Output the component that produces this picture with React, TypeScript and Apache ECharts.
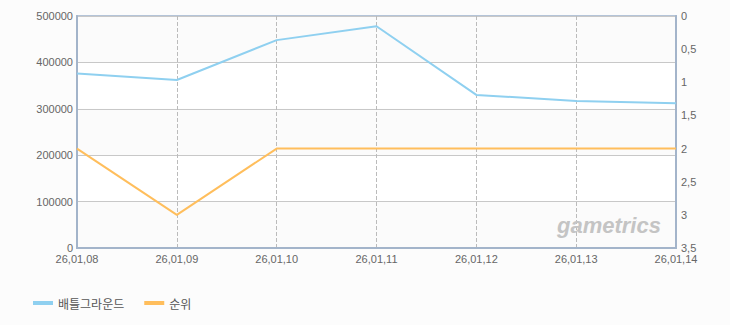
import React, { useEffect, useRef } from "react";
import * as echarts from "echarts";

const categories = ["26,01,08", "26,01,09", "26,01,10", "26,01,11", "26,01,12", "26,01,13", "26,01,14"];
const playersValues = [376000, 362000, 448000, 478000, 330000, 317000, 312000];
const rankValues = [2, 3, 2, 2, 2, 2, 2];
const seriesNames = ["배틀그라운드", "순위"];

export default function App() {
  const ref = useRef<HTMLDivElement>(null);
  useEffect(() => {
    if (!ref.current) return;
    const chart = echarts.init(ref.current, undefined, { renderer: "svg" });
    const font = "Liberation Sans";
    chart.setOption({
      animation: false,
      backgroundColor: "#fcfcfc",
      textStyle: { fontFamily: font },
      grid: { left: 77, right: 54, top: 16, bottom: 77, show: true, borderColor: "#b4c4d8", borderWidth: 2, backgroundColor: "transparent" },
      legend: {
        left: 28,
        top: 292,
        icon: "rect",
        itemWidth: 20,
        itemHeight: 4,
        itemGap: 20,
        textStyle: { color: "#555", fontSize: 12, fontFamily: "Noto Sans CJK KR" },
        data: seriesNames,
      },
      xAxis: {
        type: "category",
        data: categories,
        boundaryGap: false,
        axisLine: { lineStyle: { color: "#a3b4ca", width: 2 } },
        axisTick: { show: false },
        axisLabel: { color: "#666", fontSize: 11, margin: 5, showMaxLabel: true, showMinLabel: true, interval: 0 },
        splitLine: { show: true, lineStyle: { color: "#bbb", type: "dashed", width: 1 } },
      },
      yAxis: [
        {
          type: "value",
          min: 0,
          max: 500000,
          interval: 100000,
          axisLine: { show: true, lineStyle: { color: "#a3b4ca", width: 2 } },
          axisTick: { show: false },
          axisLabel: { color: "#666", fontSize: 11, margin: 4, formatter: (v: number) => String(v) },
          splitLine: { show: true, lineStyle: { color: "#c8c8c8", width: 1 } },
          splitArea: { show: true, areaStyle: { color: ["#fbfbfb", "#ffffff"] } },
        },
        {
          type: "value",
          min: 0,
          max: 3.5,
          interval: 0.5,
          inverse: true,
          position: "right",
          axisLine: { show: true, lineStyle: { color: "#a3b4ca", width: 2 } },
          axisTick: { show: false },
          axisLabel: { color: "#666", fontSize: 11, margin: 5, formatter: (v: number) => String(v).replace(".", ",") },
          splitLine: { show: false },
        },
      ],
      graphic: [
        {
          type: "text",
          left: 557,
          top: 214,
          z: 100,
          style: { text: "gametrics", fill: "#c4c4c4", fontSize: 22, fontWeight: "bold", fontStyle: "italic", fontFamily: font },
        },
      ],
      series: [
        {
          name: seriesNames[0],
          type: "line",
          data: playersValues,
          yAxisIndex: 0,
          symbol: "none",
          lineStyle: { color: "#8fd0f0", width: 2 },
          itemStyle: { color: "#8fd0f0" },
        },
        {
          name: seriesNames[1],
          type: "line",
          data: rankValues,
          yAxisIndex: 1,
          symbol: "none",
          lineStyle: { color: "#ffbe5c", width: 2 },
          itemStyle: { color: "#ffbe5c" },
        },
      ],
    });
    return () => chart.dispose();
  }, []);
  return <div ref={ref} style={{ width: 730, height: 325, position: "absolute", left: 0, top: 0 }} />;
}
